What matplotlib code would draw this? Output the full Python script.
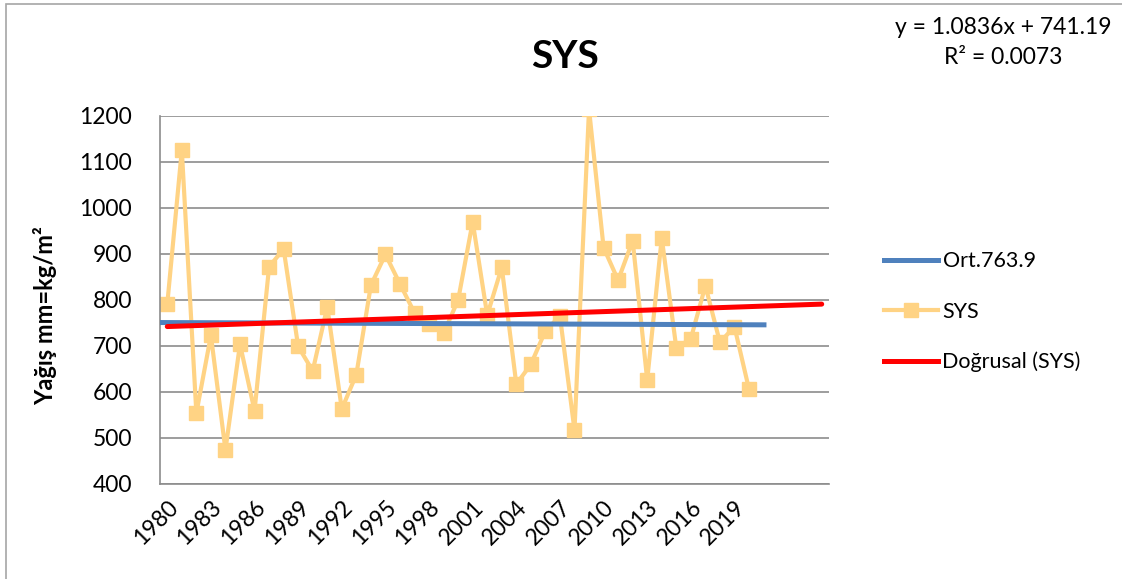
import matplotlib.pyplot as plt
from matplotlib.lines import Line2D
from matplotlib.patches import Rectangle

plt.rcParams['font.family'] = ['Lato', 'DejaVu Sans']

# annual precipitation (mm), 1980-2020
years = list(range(1980, 2021))
sys_vals = [791, 1126, 554, 723, 474, 704, 559, 872, 911, 699,
            646, 785, 563, 638, 832, 899, 835, 772, 748, 728,
            800, 970, 767, 871, 617, 660, 733, 765, 517, 1215,
            914, 843, 929, 626, 935, 696, 716, 831, 708, 742,
            606]

# mean line as drawn on the chart
ort_years = [1979.5, 2021.2]
ort_vals = [751, 746]

# linear trend y = a*x + b (x = 1, 2, ...), extended 5 periods forward
trend_a = 1.0836
trend_b = 741.19
forecast = 5

tick_years = list(range(1980, 2020, 3))

fig = plt.figure(figsize=(11.22, 5.79), dpi=100)
ax = fig.add_axes([160 / 1122, 1 - 484 / 579, 669 / 1122, 368 / 579])

n = len(years) + forecast
trend_x = [1980 + i for i in range(n)]
trend_y = [trend_a * (i + 1) + trend_b for i in range(n)]

ax.plot(ort_years, ort_vals, color='#4F81BD', lw=3.6, solid_capstyle='butt', zorder=3)
ax.plot(years, sys_vals, color='#FFD384', lw=3, marker='s', ms=10,
        mfc='#FFD384', mec='#FFD384', zorder=2)
ax.plot(trend_x, trend_y, color='#FF0000', lw=3.6, solid_capstyle='round', zorder=4)

ax.set_xlim(1979.5, 1980 + n - 0.5)
ax.set_ylim(400, 1200)
ax.set_yticks(range(400, 1201, 100))
ax.set_xticks(tick_years)
ax.set_xticklabels([str(y) for y in tick_years], rotation=45, ha='right',
                   va='top', rotation_mode='anchor', fontsize=16.5)
ax.tick_params(axis='y', labelsize=16.5, length=0, pad=20)
ax.tick_params(axis='x', length=0, pad=9)
ax.grid(axis='y', color='#8C8C8C', lw=1.2)
ax.set_axisbelow(True)
for s in ['top', 'right']:
    ax.spines[s].set_visible(False)
for s in ['left', 'bottom']:
    ax.spines[s].set_color('#8C8C8C')
    ax.spines[s].set_linewidth(1.2)

ax.set_ylabel('Yağış mm=kg/m²', fontsize=17, fontweight='bold')
ax.yaxis.set_label_coords(-0.154, 0.457)
fig.text(565 / 1122, 1 - 57 / 579, 'SYS', fontsize=28, fontweight='bold',
         ha='center', va='center')

fig.text(1003 / 1122, 1 - 27 / 579, 'y = 1.0836x + 741.19', fontsize=16.5,
         ha='center', va='center')
fig.text(1003 / 1122, 1 - 58 / 579, 'R² = 0.0073', fontsize=16.5,
         ha='center', va='center')

handles = [
    Line2D([], [], color='#4F81BD', lw=3.6),
    Line2D([], [], color='#FFD384', lw=3, marker='s', ms=10, mec='#FFD384'),
    Line2D([], [], color='#FF0000', lw=3.6),
]
fig.legend(handles, ['Ort.763.9', 'SYS', 'Doğrusal (SYS)'],
           loc='upper left', bbox_to_anchor=(865 / 1122, 1 - 232 / 579),
           frameon=False, fontsize=15.5, handlelength=2.5, handletextpad=0.2,
           labelspacing=1.4)

# outer chart frame
fig.patches.append(Rectangle((6 / 1122, -0.1), 1.2, 1 - 4 / 579 + 0.1,
                             transform=fig.transFigure, fill=False,
                             edgecolor='#A6A6A6', lw=1.2))

fig.savefig('out.png', dpi=100)
